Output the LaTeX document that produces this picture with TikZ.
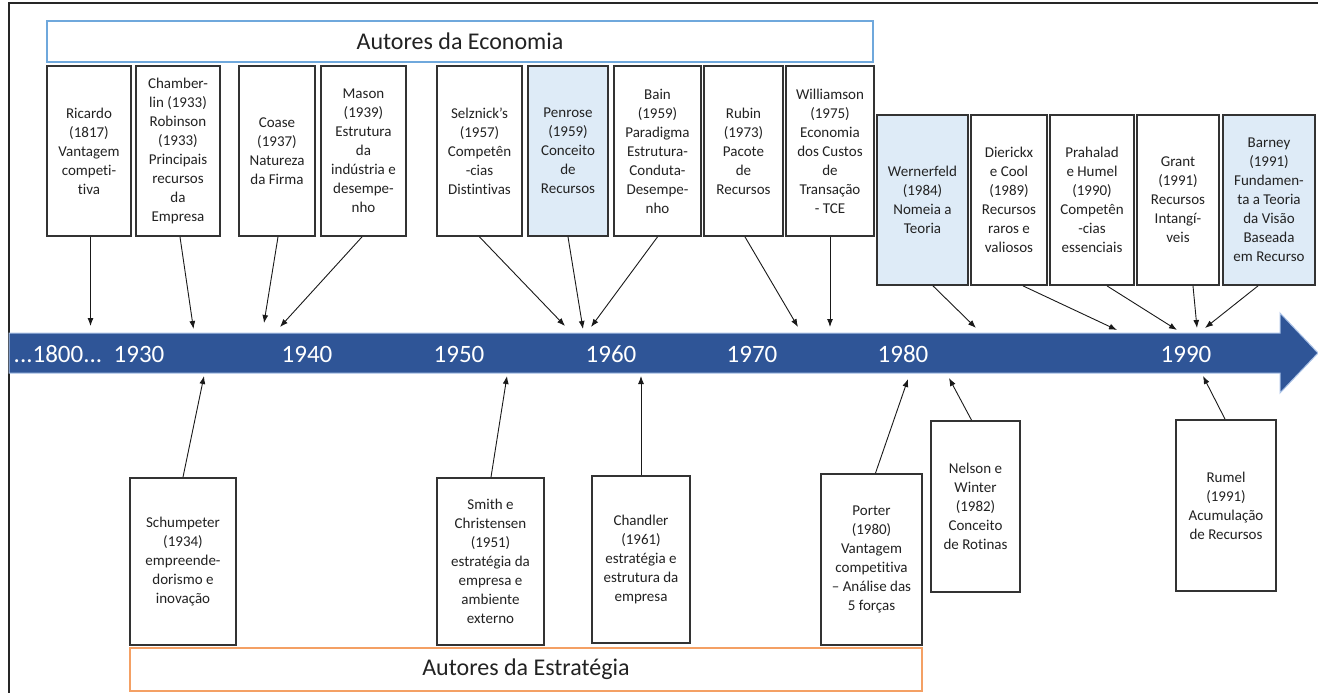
\documentclass[tikz,border=0pt]{standalone}
\usepackage{fontspec}
\setmainfont{Carlito}[Ligatures={NoCommon}]
\usetikzlibrary{arrows.meta}

\definecolor{bandblue}{HTML}{2F5597}
\definecolor{bandedge}{HTML}{A9C1E6}
\definecolor{paleblue}{HTML}{DEEBF7}
\definecolor{econline}{HTML}{6FA8DC}
\definecolor{stratline}{HTML}{F4A064}
\definecolor{boxline}{HTML}{333333}
\definecolor{txt}{HTML}{222222}

\tikzset{
  author/.style={draw=boxline, line width=1.8pt, fill=white, text=txt,
    align=center, inner sep=0pt, font=\fontsize{15}{19}\selectfont},
  keyauthor/.style={author, fill=paleblue},
  group/.style={line width=1.4pt, fill=white, inner sep=0pt, text=txt,
    font=\fontsize{24}{28}\selectfont},
  yearlabel/.style={text=white, inner sep=0pt, font=\fontsize{25}{28}\selectfont},
  link/.style={draw=black!90, line width=0.9pt, -{Latex[length=8pt,width=6pt]}},
}

\begin{document}
\begin{tikzpicture}[x=1pt, y=-1pt]
\useasboundingbox (0,0) rectangle (1318,693);

% frame
\draw[line width=2pt, draw=black!85] (9,693) -- (9,3) -- (1318,3);

% timeline arrow
\filldraw[fill=bandblue, draw=bandedge, line width=1pt]
  (9,333) -- (1280,333) -- (1280,313) -- (1318,353) -- (1280,393) -- (1280,373) -- (9,373) -- cycle;

\node[yearlabel] (y1800) at (58,354) {...1800...};
\node[yearlabel] (y1930) at (139,354) {1930};
\node[yearlabel] (y1940) at (307,354) {1940};
\node[yearlabel] (y1950) at (459,354) {1950};
\node[yearlabel] (y1960) at (611,354) {1960};
\node[yearlabel] (y1970) at (752,354) {1970};
\node[yearlabel] (y1980) at (903,354) {1980};
\node[yearlabel] (y1990) at (1186,354) {1990};

% group headings
\node[group, draw=econline, minimum width=826pt, minimum height=41pt] (econ) at (460,41.5) {Autores da Economia};
\node[group, draw=stratline, minimum width=792pt, minimum height=43pt] (strat) at (526,669.5) {Autores da Estratégia};

% economists, first row
\begin{scope}[every node/.append style={minimum height=170pt}]
\node[author, minimum width=84pt] (ricardo) at (89,151) {Ricardo\\(1817)\\Vantagem\\competi-\\tiva};
\node[author, minimum width=84pt] (chamberlin) at (178,151) {Chamber-\\lin (1933)\\Robinson\\(1933)\\Principais\\recursos\\da\\Empresa};
\node[author, minimum width=76pt] (coase) at (277,151) {Coase\\(1937)\\Natureza\\da Firma};
\node[author, minimum width=85pt] (mason) at (363.5,151) {Mason\\(1939)\\Estrutura\\da\\indústria e\\desempe-\\nho};
\node[author, minimum width=85pt] (selznick) at (479.5,151) {Selznick’s\\(1957)\\Competên\\-cias\\Distintivas};
\node[keyauthor, minimum width=80pt] (penrose) at (568,151) {Penrose\\(1959)\\Conceito\\de\\Recursos};
\node[author, minimum width=87pt] (bain) at (657.5,151) {Bain\\(1959)\\Paradigma\\Estrutura-\\Conduta-\\Desempe-\\nho};
\node[author, minimum width=79pt] (rubin) at (743.5,151) {Rubin\\(1973)\\Pacote\\de\\Recursos};
\node[author, minimum width=88pt] (williamson) at (830,151) {Williamson\\(1975)\\Economia\\dos Custos\\de\\Transação\\- TCE};

% resource-based view, second row
\node[keyauthor, minimum width=91pt] (wernerfeld) at (922.5,200) {Wernerfeld\\(1984)\\Nomeia a\\Teoria};
\node[author, minimum width=76pt] (dierickx) at (1009,200) {Dierickx\\e Cool\\(1989)\\Recursos\\raros e\\valiosos};
\node[author, minimum width=84pt] (prahalad) at (1092,200) {Prahalad\\e Humel\\(1990)\\Competên\\-cias\\essenciais};
\node[author, minimum width=82pt] (grant) at (1178,200) {Grant\\(1991)\\Recursos\\Intangí-\\veis};
\node[keyauthor, minimum width=92pt] (barney) at (1269,200) {Barney\\(1991)\\Fundamen-\\ta a Teoria\\da Visão\\Baseada\\em Recurso};
\end{scope}

% strategy authors, below the timeline
\node[author, minimum width=106pt, minimum height=167pt] (schumpeter) at (183,561.5) {Schumpeter\\(1934)\\empreende-\\dorismo e\\inovação};
\node[author, minimum width=107pt, minimum height=167pt] (smith) at (490.5,561.5) {Smith e\\Christensen\\(1951)\\estratégia da\\empresa e\\ambiente\\externo};
\node[author, minimum width=98pt, minimum height=167pt] (chandler) at (641,559.5) {Chandler\\(1961)\\estratégia e\\estrutura da\\empresa};
\node[author, minimum width=101pt, minimum height=171pt] (porter) at (871.5,559.5) {Porter\\(1980)\\Vantagem\\competitiva\\– Análise das\\5 forças};
\node[author, minimum width=89pt, minimum height=171pt] (nelson) at (975.5,506.5) {Nelson e\\Winter\\(1982)\\Conceito\\de Rotinas};
\node[author, minimum width=100pt, minimum height=171pt] (rumel) at (1226,505.5) {Rumel\\(1991)\\Acumulação\\de Recursos};

% points on the timeline
\coordinate (pRicardo) at (90.5,326);
\coordinate (pChamberlin) at (193.5,329);
\coordinate (pCoase) at (264,323);
\coordinate (pMason) at (280,327);
\coordinate (pSelznick) at (565,326);
\coordinate (pPenrose) at (583,329);
\coordinate (pBain) at (591,327);
\coordinate (pRubin) at (798,327);
\coordinate (pWilliamson) at (830,327);
\coordinate (pWernerfeld) at (976,328);
\coordinate (pDierickx) at (1117,330);
\coordinate (pPrahalad) at (1177,330);
\coordinate (pGrant) at (1197,328);
\coordinate (pBarney) at (1205,328);
\coordinate (pSchumpeter) at (204,376);
\coordinate (pSmith) at (507,376);
\coordinate (pChandler) at (641,376);
\coordinate (pPorter) at (908,379);
\coordinate (pNelson) at (949,378);
\coordinate (pRumel) at (1203,376);

% links down to the timeline
\draw[link] ([xshift=1.5pt]ricardo.south) -- (pRicardo);
\draw[link] ([xshift=2pt]chamberlin.south) -- (pChamberlin);
\draw[link] ([xshift=1pt]coase.south) -- (pCoase);
\draw[link] ([xshift=-1.5pt]mason.south) -- (pMason);
\draw[link] (selznick.south) -- (pSelznick);
\draw[link] (penrose.south) -- (pPenrose);
\draw[link] (bain.south) -- (pBain);
\draw[link] ([xshift=1.5pt]rubin.south) -- (pRubin);
\draw[link] (williamson.south) -- (pWilliamson);
\draw[link] ([xshift=10.5pt]wernerfeld.south) -- (pWernerfeld);
\draw[link] ([xshift=14pt]dierickx.south) -- (pDierickx);
\draw[link] ([xshift=15pt]prahalad.south) -- (pPrahalad);
\draw[link] ([xshift=15pt]grant.south) -- (pGrant);
\draw[link] ([xshift=-11pt]barney.south) -- (pBarney);

% links up to the timeline
\draw[link] (schumpeter.north) -- (pSchumpeter);
\draw[link] ([xshift=0.5pt]smith.north) -- (pSmith);
\draw[link] (chandler.north) -- (pChandler);
\draw[link] ([xshift=4pt]porter.north) -- (pPorter);
\draw[link] ([xshift=-4pt]nelson.north) -- (pNelson);
\draw[link] ([xshift=-1pt]rumel.north) -- (pRumel);
\end{tikzpicture}
\end{document}
